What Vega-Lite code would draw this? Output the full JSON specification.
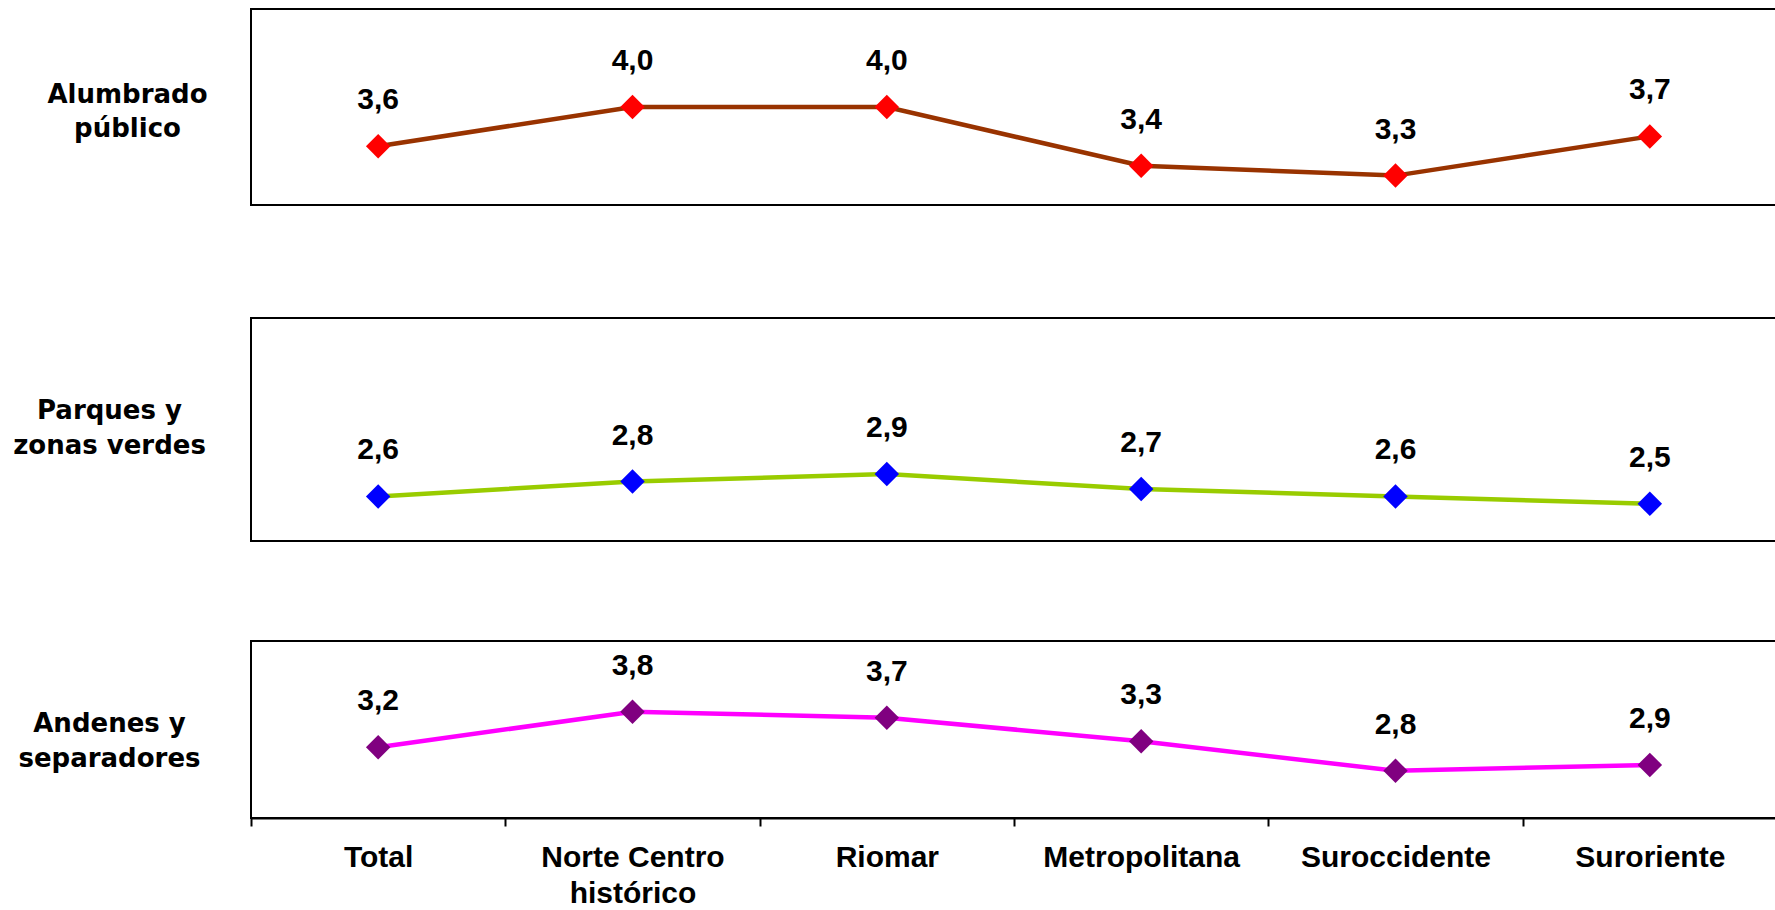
{
  "$schema": "https://vega.github.io/schema/vega-lite/v6.json",
  "padding": {"left": 11, "top": 8, "right": 0, "bottom": 0},
  "background": "white",
  "config": {
    "locale": {"number": {"decimal": ",", "thousands": ".", "grouping": [3], "currency": ["", ""]}},
    "font": "DejaVu Sans",
    "view": {"stroke": "#000000", "strokeWidth": 2},
    "concat": {"spacing": 98}
  },
  "datasets": {
    "d": [
      {"servicio": "Alumbrado público", "zona": "Total", "valor": 3.6},
      {"servicio": "Alumbrado público", "zona": "Norte Centro histórico", "valor": 4.0},
      {"servicio": "Alumbrado público", "zona": "Riomar", "valor": 4.0},
      {"servicio": "Alumbrado público", "zona": "Metropolitana", "valor": 3.4},
      {"servicio": "Alumbrado público", "zona": "Suroccidente", "valor": 3.3},
      {"servicio": "Alumbrado público", "zona": "Suroriente", "valor": 3.7},
      {"servicio": "Parques y zonas verdes", "zona": "Total", "valor": 2.6},
      {"servicio": "Parques y zonas verdes", "zona": "Norte Centro histórico", "valor": 2.8},
      {"servicio": "Parques y zonas verdes", "zona": "Riomar", "valor": 2.9},
      {"servicio": "Parques y zonas verdes", "zona": "Metropolitana", "valor": 2.7},
      {"servicio": "Parques y zonas verdes", "zona": "Suroccidente", "valor": 2.6},
      {"servicio": "Parques y zonas verdes", "zona": "Suroriente", "valor": 2.5},
      {"servicio": "Andenes y separadores", "zona": "Total", "valor": 3.2},
      {"servicio": "Andenes y separadores", "zona": "Norte Centro histórico", "valor": 3.8},
      {"servicio": "Andenes y separadores", "zona": "Riomar", "valor": 3.7},
      {"servicio": "Andenes y separadores", "zona": "Metropolitana", "valor": 3.3},
      {"servicio": "Andenes y separadores", "zona": "Suroccidente", "valor": 2.8},
      {"servicio": "Andenes y separadores", "zona": "Suroriente", "valor": 2.9}
    ]
  },
  "vconcat": [
    {
      "width": 1526,
      "height": 196,
      "data": {"name": "d"},
      "transform": [{"filter": "datum.servicio == 'Alumbrado público'"}],
      "encoding": {
        "x": {
          "field": "zona", "type": "nominal",
          "sort": ["Total", "Norte Centro histórico", "Riomar", "Metropolitana", "Suroccidente", "Suroriente"],
          "scale": {"type": "band", "paddingInner": 0, "paddingOuter": 0},
          "axis": {"title": null, "labels": false, "ticks": false, "grid": false, "domain": true, "domainOpacity": 0, "offset": 13}
        },
        "y": {
          "field": "valor", "type": "quantitative",
          "scale": {"domain": [3, 5], "zero": false, "nice": false},
          "axis": {"title": ["Alumbrado", "público"], "titleAngle": 0, "titleAlign": "center", "titleBaseline": "middle", "titleX": -124, "titleY": 85, "titleFontSize": 26, "titleFontWeight": "bold", "titleLineHeight": 34, "titleColor": "#000000", "titleLimit": 500, "labels": false, "ticks": false, "domain": false, "grid": false}
        }
      },
      "layer": [
        {"mark": {"type": "line", "color": "#993300", "strokeWidth": 4.5}},
        {"mark": {"type": "point", "shape": "diamond", "filled": true, "size": 600, "color": "#FF0000", "opacity": 1}},
        {"mark": {"type": "text", "dy": -37, "baseline": "alphabetic", "font": "Liberation Sans", "fontSize": 30, "fontWeight": "bold", "color": "#000000"},
         "encoding": {"text": {"field": "valor", "type": "quantitative", "format": ".1f"}}}
      ]
    },
    {
      "width": 1526,
      "height": 223,
      "data": {"name": "d"},
      "transform": [{"filter": "datum.servicio == 'Parques y zonas verdes'"}],
      "encoding": {
        "x": {
          "field": "zona", "type": "nominal",
          "sort": ["Total", "Norte Centro histórico", "Riomar", "Metropolitana", "Suroccidente", "Suroriente"],
          "scale": {"type": "band", "paddingInner": 0, "paddingOuter": 0},
          "axis": null
        },
        "y": {
          "field": "valor", "type": "quantitative",
          "scale": {"domain": [2, 5], "zero": false, "nice": false},
          "axis": {"title": ["Parques y", "zonas verdes"], "titleAngle": 0, "titleAlign": "center", "titleBaseline": "middle", "titleX": -142, "titleY": 92, "titleFontSize": 26, "titleFontWeight": "bold", "titleLineHeight": 35, "titleColor": "#000000", "titleLimit": 500, "labels": false, "ticks": false, "domain": false, "grid": false}
        }
      },
      "layer": [
        {"mark": {"type": "line", "color": "#99CC00", "strokeWidth": 4.5}},
        {"mark": {"type": "point", "shape": "diamond", "filled": true, "size": 600, "color": "#0000FF", "opacity": 1}},
        {"mark": {"type": "text", "dy": -37, "baseline": "alphabetic", "font": "Liberation Sans", "fontSize": 30, "fontWeight": "bold", "color": "#000000"},
         "encoding": {"text": {"field": "valor", "type": "quantitative", "format": ".1f"}}}
      ]
    },
    {
      "width": 1526,
      "height": 177,
      "data": {"name": "d"},
      "transform": [{"filter": "datum.servicio == 'Andenes y separadores'"}],
      "encoding": {
        "x": {
          "field": "zona", "type": "nominal",
          "sort": ["Total", "Norte Centro histórico", "Riomar", "Metropolitana", "Suroccidente", "Suroriente"],
          "scale": {"type": "band", "paddingInner": 0, "paddingOuter": 0},
          "axis": {"title": null, "labelAngle": 0, "labelFont": "Liberation Sans", "labelFontSize": 30, "labelFontWeight": "bold", "labelColor": "#000000", "labelPadding": 16, "labelLineHeight": 36, "labelLimit": 0, "labelExpr": "datum.label == 'Norte Centro histórico' ? ['Norte Centro', 'histórico'] : datum.label", "tickBand": "extent", "tickSize": 8, "tickColor": "#000000", "tickWidth": 2, "domainColor": "#000000", "domainWidth": 2, "grid": false}
        },
        "y": {
          "field": "valor", "type": "quantitative",
          "scale": {"domain": [2, 5], "zero": false, "nice": false},
          "axis": {"title": ["Andenes y", "separadores"], "titleAngle": 0, "titleAlign": "center", "titleBaseline": "middle", "titleX": -142, "titleY": 82, "titleFontSize": 26, "titleFontWeight": "bold", "titleLineHeight": 35, "titleColor": "#000000", "titleLimit": 500, "labels": false, "ticks": false, "domain": false, "grid": false}
        }
      },
      "layer": [
        {"mark": {"type": "line", "color": "#FF00FF", "strokeWidth": 4.5}},
        {"mark": {"type": "point", "shape": "diamond", "filled": true, "size": 600, "color": "#800080", "opacity": 1}},
        {"mark": {"type": "text", "dy": -37, "baseline": "alphabetic", "font": "Liberation Sans", "fontSize": 30, "fontWeight": "bold", "color": "#000000"},
         "encoding": {"text": {"field": "valor", "type": "quantitative", "format": ".1f"}}}
      ]
    }
  ]
}
